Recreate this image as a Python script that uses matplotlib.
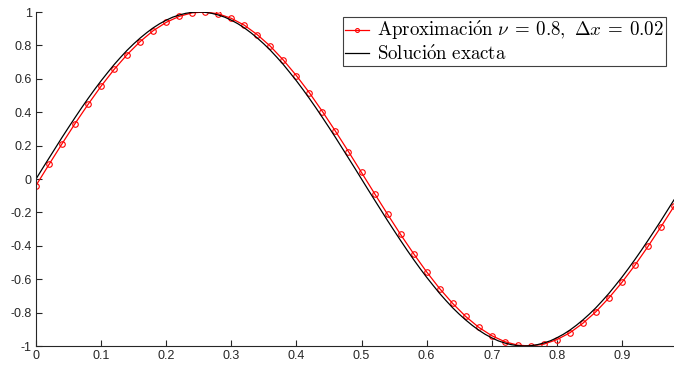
import matplotlib
matplotlib.use('Agg')
import matplotlib.pyplot as plt

### data ######################################################################

x_aprox = [round(0.02 * j, 2) for j in range(50)]
y_aprox = [-0.039, 0.087, 0.211, 0.332, 0.447, 0.556, 0.656, 0.745, 0.823, 0.888,
           0.938, 0.974, 0.995, 1.000, 0.989, 0.962, 0.921, 0.864, 0.795, 0.712,
           0.619, 0.516, 0.404, 0.286, 0.164, 0.039, -0.087, -0.211, -0.332, -0.447,
           -0.556, -0.656, -0.745, -0.823, -0.888, -0.938, -0.974, -0.995, -1.000, -0.989,
           -0.962, -0.921, -0.864, -0.795, -0.712, -0.619, -0.516, -0.404, -0.286, -0.164]

# exact solution, first half period (x = 0 .. 0.5 every 0.01)
x_exacta = [round(0.01 * k, 2) for k in range(99)]
y_half = [0.000, 0.063, 0.125, 0.187, 0.249, 0.309, 0.368, 0.426, 0.482, 0.536,
          0.588, 0.637, 0.685, 0.729, 0.771, 0.809, 0.844, 0.876, 0.905, 0.930,
          0.951, 0.969, 0.982, 0.992, 0.998, 1.000, 0.998, 0.992, 0.982, 0.969,
          0.951, 0.930, 0.905, 0.876, 0.844, 0.809, 0.771, 0.729, 0.685, 0.637,
          0.588, 0.536, 0.482, 0.426, 0.368, 0.309, 0.249, 0.187, 0.125, 0.063,
          0.000]
y_exacta = y_half + [-v for v in y_half[1:49]]

xticks = [0, 0.1, 0.2, 0.3, 0.4, 0.5, 0.6, 0.7, 0.8, 0.9]
xlabels = ['0', '0.1', '0.2', '0.3', '0.4', '0.5', '0.6', '0.7', '0.8', '0.9']
yticks = [-1, -0.8, -0.6, -0.4, -0.2, 0, 0.2, 0.4, 0.6, 0.8, 1]
ylabels = ['-1', '-0.8', '-0.6', '-0.4', '-0.2', '0', '0.2', '0.4', '0.6', '0.8', '1']

### plot ######################################################################

plt.rcParams['font.family'] = ['Liberation Sans', 'DejaVu Sans']
plt.rcParams['mathtext.fontset'] = 'cm'

fig = plt.figure(figsize=(6.74, 3.67), dpi=100)
ax = fig.add_axes([0.0534, 0.0572, 0.9466, 0.9101])

ax.plot(x_aprox, y_aprox, 'o-', color='red', lw=0.9, ms=4, mfc='none', mew=0.8,
        label=r'$\mathrm{Aproximaci\acute{o}n}\ \nu \:=\: 0.8,\ \Delta x \:=\: 0.02$')
ax.plot(x_exacta, y_exacta, '-', color='black', lw=0.9, label=r'$\mathrm{Soluci\acute{o}n\ exacta}$')

ax.set_xlim(0, 0.98)
ax.set_ylim(-1, 1)
ax.set_xticks(xticks)
ax.set_xticklabels(xlabels)
ax.set_yticks(yticks)
ax.set_yticklabels(ylabels)

for s in ['top', 'right']:
    ax.spines[s].set_visible(False)
for s in ['left', 'bottom']:
    ax.spines[s].set_color('#262626')
    ax.spines[s].set_linewidth(0.8)
ax.tick_params(direction='in', length=4, width=0.8, colors='#262626', labelsize=9, pad=3)

leg = ax.legend(loc='upper left', bbox_to_anchor=(0.481, 0.985), borderaxespad=0,
                fontsize=13.6, fancybox=False, framealpha=1, edgecolor='#404040',
                handlelength=1.25, handletextpad=0.45, borderpad=0.12, labelspacing=0.12,
                markerscale=0.7)
leg.get_frame().set_linewidth(0.8)

fig.savefig('out.png', dpi=100)
